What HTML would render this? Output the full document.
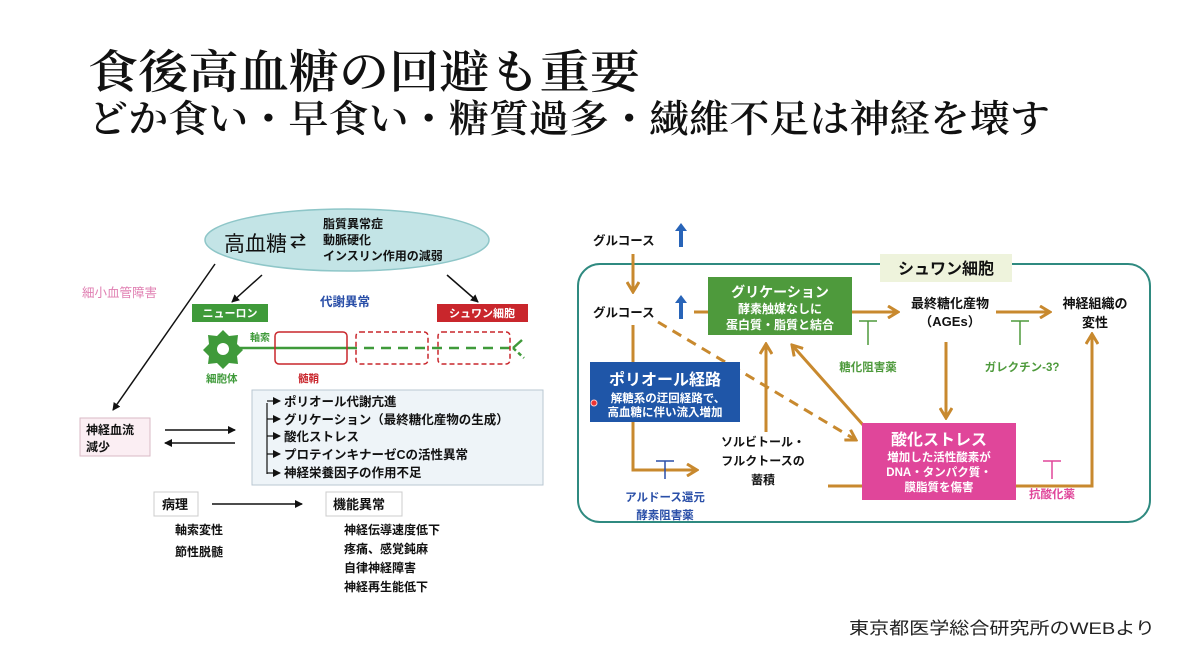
<!DOCTYPE html>
<html><head><meta charset="utf-8"><style>
html,body{margin:0;padding:0;background:#fff;}
svg{display:block;}
text{font-family:"Liberation Sans","Noto Sans CJK JP",sans-serif;}
.t{font-family:"Liberation Serif","Noto Serif CJK SC",serif;fill:#111;font-weight:600;}
.b{font-weight:bold;}
</style></head><body>
<svg width="1200" height="670" viewBox="0 0 1200 670" xmlns="http://www.w3.org/2000/svg">
<defs>
<marker id="ak" markerWidth="8" markerHeight="8" refX="7" refY="4" orient="auto" markerUnits="userSpaceOnUse"><path d="M0,0 L8,4 L0,8 z" fill="#111"/></marker>
<marker id="ao" markerWidth="14" markerHeight="14" refX="12" refY="7" orient="auto" markerUnits="userSpaceOnUse"><path d="M2,1 L12,7 L2,13" fill="none" stroke="#c8892e" stroke-width="3"/></marker>
</defs>
<rect width="1200" height="670" fill="#fff"/>
<text class="t" x="88" y="88" font-size="46" textLength="552" lengthAdjust="spacingAndGlyphs">食後高血糖の回避も重要</text>
<text class="t" x="88" y="132" font-size="38" textLength="962" lengthAdjust="spacingAndGlyphs">どか食い・早食い・糖質過多・繊維不足は神経を壊す</text>

<!-- LEFT DIAGRAM -->
<ellipse cx="347" cy="240" rx="142" ry="31" fill="#c3e4e6" stroke="#8ec6c8" stroke-width="1.5"/>
<text x="224" y="251" font-size="21" fill="#111">高血糖</text>
<text x="290" y="247" font-size="16" fill="#111" class="b">⇄</text>
<g font-weight="600"><text x="323" y="228" font-size="12" fill="#111">脂質異常症</text>
<text x="323" y="244" font-size="12" fill="#111">動脈硬化</text>
<text x="323" y="260" font-size="12" fill="#111">インスリン作用の減弱</text></g>
<text x="82" y="297" font-size="12.5" fill="#e07fb2">細小血管障害</text>
<line x1="215" y1="264" x2="113" y2="410" stroke="#111" stroke-width="1.5" marker-end="url(#ak)"/>
<line x1="262" y1="275" x2="232" y2="302" stroke="#111" stroke-width="1.5" marker-end="url(#ak)"/>
<line x1="447" y1="275" x2="478" y2="302" stroke="#111" stroke-width="1.5" marker-end="url(#ak)"/>
<text x="320" y="306" font-size="12.5" fill="#2a4fa8" class="b">代謝異常</text>
<rect x="192" y="304" width="76" height="18" fill="#3f9a3a"/>
<text x="230" y="317" font-size="11" fill="#fff" text-anchor="middle" class="b">ニューロン</text>
<rect x="437" y="304" width="91" height="18" fill="#c9262c"/>
<text x="482" y="317" font-size="11" fill="#fff" text-anchor="middle" class="b">シュワン細胞</text>
<line x1="228" y1="348" x2="347" y2="348" stroke="#3f9a3a" stroke-width="2.5"/>
<line x1="347" y1="348" x2="515" y2="348" stroke="#3f9a3a" stroke-width="2.5" stroke-dasharray="10,7"/>
<line x1="513" y1="348" x2="522" y2="340" stroke="#3f9a3a" stroke-width="2.5"/>
<line x1="513" y1="348" x2="524" y2="358" stroke="#3f9a3a" stroke-width="2.5" stroke-dasharray="4,3"/>
<polygon points="223,330 229,336 238,335 237,344 243,350 237,356 238,364 229,363 223,369 217,363 208,364 209,356 203,350 209,344 208,335 217,336" fill="#3f9a3a"/>
<circle cx="223" cy="349" r="6" fill="#fff"/>
<rect x="275" y="332" width="72" height="32" rx="4" fill="none" stroke="#c9262c" stroke-width="1.5"/>
<rect x="356" y="332" width="72" height="32" rx="4" fill="none" stroke="#c9262c" stroke-width="1.5" stroke-dasharray="5,3"/>
<rect x="438" y="332" width="72" height="32" rx="4" fill="none" stroke="#c9262c" stroke-width="1.5" stroke-dasharray="5,3"/>
<text x="250" y="341" font-size="10" fill="#3f9a3a" class="b">軸索</text>
<text x="206" y="382" font-size="10.5" fill="#3f9a3a" class="b">細胞体</text>
<text x="298" y="382" font-size="10.5" fill="#c9262c" class="b">髄鞘</text>
<rect x="80" y="418" width="70" height="38" fill="#fbeef3" stroke="#d9b9c6"/>
<text x="86" y="434" font-size="12" fill="#111" font-weight="600">神経血流</text>
<text x="86" y="451" font-size="12" fill="#111" font-weight="600">減少</text>
<line x1="165" y1="430" x2="235" y2="430" stroke="#111" stroke-width="1.5" marker-end="url(#ak)"/>
<line x1="235" y1="443" x2="165" y2="443" stroke="#111" stroke-width="1.5" marker-end="url(#ak)"/>
<rect x="252" y="390" width="291" height="95" fill="#eef4f8" stroke="#b9c7d2"/>
<path d="M267,403 V474" stroke="#111" stroke-width="1.2" fill="none"/>
<g stroke="#111" stroke-width="1.2" marker-end="url(#ak)">
<line x1="267" y1="401" x2="280" y2="401"/><line x1="267" y1="419" x2="280" y2="419"/><line x1="267" y1="436" x2="280" y2="436"/><line x1="267" y1="454" x2="280" y2="454"/><line x1="267" y1="473" x2="280" y2="473"/></g>
<g font-size="12.5" fill="#111" font-weight="600">
<text x="284" y="406">ポリオール代謝亢進</text>
<text x="284" y="424">グリケーション（最終糖化産物の生成）</text>
<text x="284" y="441">酸化ストレス</text>
<text x="284" y="459">プロテインキナーゼCの活性異常</text>
<text x="284" y="477">神経栄養因子の作用不足</text></g>
<rect x="154" y="492" width="44" height="24" fill="#fff" stroke="#ccc"/>
<text x="162" y="509" font-size="13" fill="#111" font-weight="600">病理</text>
<line x1="212" y1="504" x2="302" y2="504" stroke="#111" stroke-width="1.5" marker-end="url(#ak)"/>
<rect x="326" y="492" width="76" height="24" fill="#fff" stroke="#ccc"/>
<text x="333" y="509" font-size="13" fill="#111" font-weight="600">機能異常</text>
<g font-size="12" fill="#111" font-weight="600">
<text x="175" y="534">軸索変性</text><text x="175" y="556">節性脱髄</text>
<text x="344" y="534">神経伝導速度低下</text><text x="344" y="553">疼痛、感覚鈍麻</text>
<text x="344" y="572">自律神経障害</text><text x="344" y="591">神経再生能低下</text></g>

<!-- RIGHT DIAGRAM -->
<rect x="578" y="264" width="572" height="258" rx="22" fill="#fff" stroke="#2f8a80" stroke-width="2"/>
<rect x="880" y="254" width="132" height="28" fill="#eef3dc"/>
<text x="946" y="274" font-size="16" fill="#111" text-anchor="middle" class="b">シュワン細胞</text>
<g font-size="12.5" fill="#111" class="b">
<text x="593" y="245">グルコース</text>
<text x="593" y="317">グルコース</text></g>
<g fill="#2864b8"><path d="M679,247 h4 v-16 h4 l-6,-8 l-6,8 h4z"/><path d="M679,319 h4 v-16 h4 l-6,-8 l-6,8 h4z"/></g>
<g stroke="#c8892e" stroke-width="3" fill="none">
<line x1="633" y1="254" x2="633" y2="292" marker-end="url(#ao)"/>
<path d="M633,325 V470 H697" marker-end="url(#ao)"/>
<line x1="694" y1="312" x2="708" y2="312"/>
<line x1="852" y1="312" x2="898" y2="312" marker-end="url(#ao)"/>
<line x1="996" y1="312" x2="1050" y2="312" marker-end="url(#ao)"/>
<line x1="946" y1="342" x2="946" y2="418" marker-end="url(#ao)"/>
<line x1="766" y1="432" x2="766" y2="344" marker-end="url(#ao)"/>
<line x1="864" y1="426" x2="792" y2="345" marker-end="url(#ao)"/>
<line x1="658" y1="322" x2="856" y2="440" stroke-dasharray="10,7" marker-end="url(#ao)"/>
<line x1="828" y1="486" x2="862" y2="486"/>
<path d="M1016,486 H1092 V334" marker-end="url(#ao)"/>
</g>
<rect x="708" y="277" width="144" height="58" fill="#4e9a3c"/>
<g fill="#fff" text-anchor="middle" class="b"><text x="780" y="297" font-size="14">グリケーション</text>
<text x="780" y="313" font-size="12">酵素触媒なしに</text><text x="780" y="329" font-size="12">蛋白質・脂質と結合</text></g>
<g font-size="13" fill="#111" text-anchor="middle" class="b"><text x="950" y="308">最終糖化産物</text><text x="950" y="326">（AGEs）</text>
<text x="1095" y="308">神経組織の</text><text x="1095" y="327">変性</text></g>
<g stroke="#4e9a3c" stroke-width="1.5"><path d="M859,321 h18 M868,321 v24"/><path d="M1011,321 h18 M1020,321 v24"/></g>
<text x="868" y="371" font-size="11.5" fill="#4e9a3c" text-anchor="middle" class="b">糖化阻害薬</text>
<text x="1022" y="371" font-size="11.5" fill="#4e9a3c" text-anchor="middle" class="b">ガレクチン-3?</text>
<rect x="590" y="362" width="150" height="60" fill="#1f56a8"/>
<g fill="#fff" text-anchor="middle" class="b"><text x="665" y="385" font-size="16">ポリオール経路</text>
<text x="668" y="402" font-size="11.5">解糖系の迂回経路で、</text><text x="665" y="416" font-size="11.5">高血糖に伴い流入増加</text></g>
<circle cx="594" cy="403" r="3" fill="#e33" stroke="#fcc"/>
<g font-size="12" fill="#111" text-anchor="middle" class="b"><text x="763" y="446">ソルビトール・</text><text x="763" y="465">フルクトースの</text><text x="763" y="484">蓄積</text></g>
<rect x="862" y="423" width="154" height="77" fill="#e0469a"/>
<g fill="#fff" text-anchor="middle" class="b"><text x="939" y="445" font-size="16">酸化ストレス</text>
<text x="939" y="461" font-size="11.5">増加した活性酸素が</text><text x="939" y="476" font-size="11.5">DNA・タンパク質・</text><text x="939" y="491" font-size="11.5">膜脂質を傷害</text></g>
<g stroke="#2a4fa8" stroke-width="1.5"><path d="M656,461 h18 M665,461 v18"/></g>
<g stroke="#e0469a" stroke-width="1.5"><path d="M1043,461 h18 M1052,461 v18"/></g>
<g font-size="11.5" fill="#2a4fa8" text-anchor="middle" class="b"><text x="665" y="501">アルドース還元</text><text x="665" y="519">酵素阻害薬</text></g>
<text x="1052" y="498" font-size="11.5" fill="#e0469a" text-anchor="middle" class="b">抗酸化薬</text>
<text x="849" y="634" font-size="17" fill="#222" textLength="306" lengthAdjust="spacingAndGlyphs">東京都医学総合研究所のWEBより</text>
</svg>
</body></html>
